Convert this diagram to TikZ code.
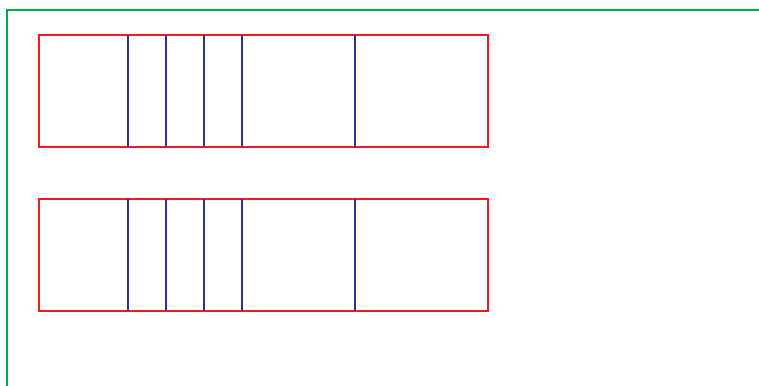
\documentclass[tikz,border=0pt]{standalone}
\usepackage{xcolor}
\definecolor{frameGreen}{RGB}{0,166,81}
\definecolor{barRed}{RGB}{237,28,36}
\definecolor{tickBlue}{RGB}{46,49,146}
\tikzset{
  greenframe/.style={draw=frameGreen},
  redbar/.style={draw=barRed},
  bluetick/.style={draw=tickBlue}}
\begin{document}
\begin{tikzpicture}[x=1pt, y=-1pt]
\useasboundingbox (0,0) rectangle (759,385);
\draw[greenframe, line width=2.8pt] (7,386) |- (760,10);
\foreach \ytop in {35,199} {
  \draw[redbar, line width=2.8pt] (39,\ytop) rectangle (488,\ytop+112);
  \foreach \xx in {128,166,204,242,355}
    \draw[bluetick, line width=2.8pt] (\xx,\ytop) -- (\xx,\ytop+112);
}
\end{tikzpicture}
\end{document}
